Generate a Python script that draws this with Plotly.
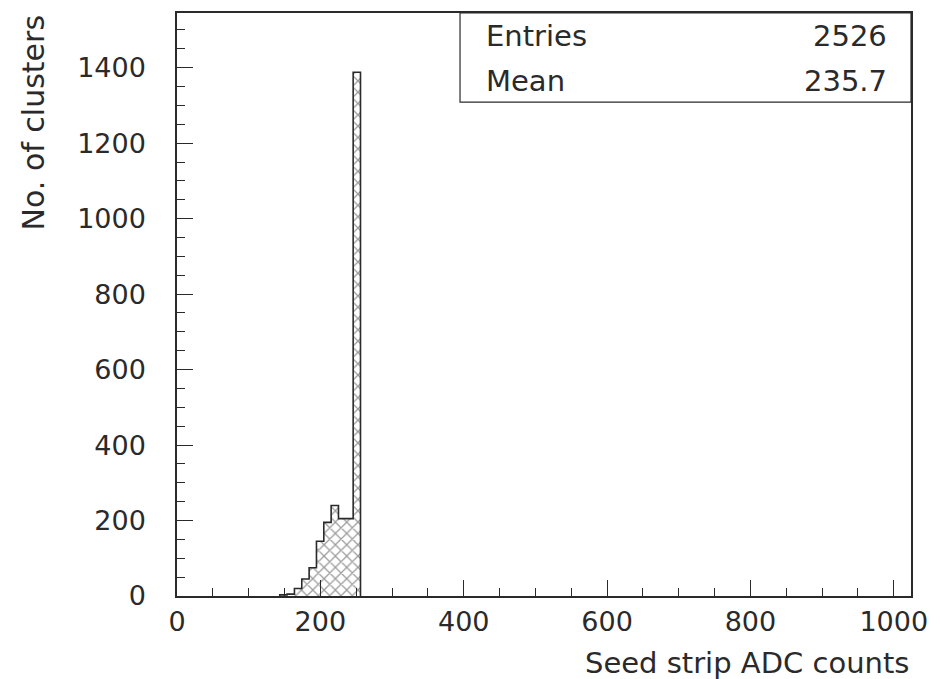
import plotly.graph_objects as go

# ---- data ----
bin_width = 10.24            # 100 bins over 0..1024
first_bin = 14               # index of first non-empty bin
counts = [3, 5, 20, 45, 75, 145, 195, 240, 205, 205, 1388]
x_range = [0, 1024]
y_range = [0, 1545]
x_ticks = [0, 200, 400, 600, 800, 1000]
y_ticks = [0, 200, 400, 600, 800, 1000, 1200, 1400]
stat_names = ["Entries", "Mean"]
stat_values = ["2526", "235.7"]
x_title = "Seed strip ADC counts"
y_title = "No. of clusters"

edges = [(first_bin + i) * bin_width for i in range(len(counts) + 1)]
centers = [(edges[i] + edges[i + 1]) / 2 for i in range(len(counts))]

INK = "#2a2a2a"
FONT = dict(family="DejaVu Sans", size=27, color=INK)

fig = go.Figure()
fig.add_trace(go.Bar(
    x=centers, y=counts, width=bin_width,
    marker=dict(color="white", line_width=0,
                pattern=dict(shape="x", size=8, solidity=0.3,
                             fgcolor="#3a3a3a", bgcolor="white")),
    hoverinfo="skip", showlegend=False))

# histogram outline as a step line
sx = [edges[0]] + edges[:-1] + [edges[-1]]
sy = [0] + counts + [0]
fig.add_trace(go.Scatter(x=sx, y=sy, mode="lines", line_shape="hv",
                         line=dict(color=INK, width=1.6),
                         hoverinfo="skip", showlegend=False))

L, R, T, B = 176.7, 26, 11.7, 83.3
W, H = 940, 679
pw, ph = W - L - R, H - T - B

def px_x(p):
    return (p - L) / pw

def px_y(p):
    return (H - B - p) / ph

fig.update_layout(
    width=W, height=H,
    margin=dict(l=L, r=R, t=T, b=B, pad=0),
    paper_bgcolor="white", plot_bgcolor="white",
    font=FONT, bargap=0,
    xaxis=dict(range=x_range, tickvals=x_ticks, ticks="inside", ticklen=16,
               tickwidth=1, tickcolor=INK, showline=True, linecolor=INK,
               linewidth=1.5, mirror=True, showgrid=False, zeroline=False,
               ticklabelstandoff=1,
               minor=dict(dtick=50, ticks="inside", ticklen=8,
                          tickcolor=INK, showgrid=False)),
    yaxis=dict(range=y_range, tickvals=y_ticks, ticks="inside", ticklen=16,
               tickwidth=1, tickcolor=INK, showline=True, linecolor=INK,
               linewidth=1.5, mirror=True, showgrid=False, zeroline=False,
               ticklabelstandoff=24,
               minor=dict(dtick=50, ticks="inside", ticklen=8,
                          tickcolor=INK, showgrid=False)),
)

# stats box
fig.add_shape(type="rect", xref="paper", yref="paper",
              x0=px_x(461), x1=1, y0=px_y(101), y1=1,
              line=dict(color=INK, width=1.2), fillcolor="white", layer="above")
for i, (n, v) in enumerate(zip(stat_names, stat_values)):
    yy = px_y(35 + i * 45)
    fig.add_annotation(xref="paper", yref="paper", x=px_x(485), y=yy,
                       text=n, showarrow=False, xanchor="left", yanchor="middle",
                       font=dict(size=29))
    fig.add_annotation(xref="paper", yref="paper", x=px_x(892), y=yy,
                       text=v, showarrow=False, xanchor="right", yanchor="middle",
                       font=dict(size=29))

# axis titles (ROOT style: aligned to axis end)
fig.add_annotation(xref="paper", yref="paper", x=1.0, y=px_y(663),
                   text=x_title, showarrow=False, xanchor="right",
                   yanchor="middle", font=dict(size=29))
fig.add_annotation(xref="paper", yref="paper", x=px_x(33), y=1.0,
                   text=y_title, showarrow=False, textangle=-90,
                   xanchor="center", yanchor="top", font=dict(size=30))

fig.write_html("out.html")
